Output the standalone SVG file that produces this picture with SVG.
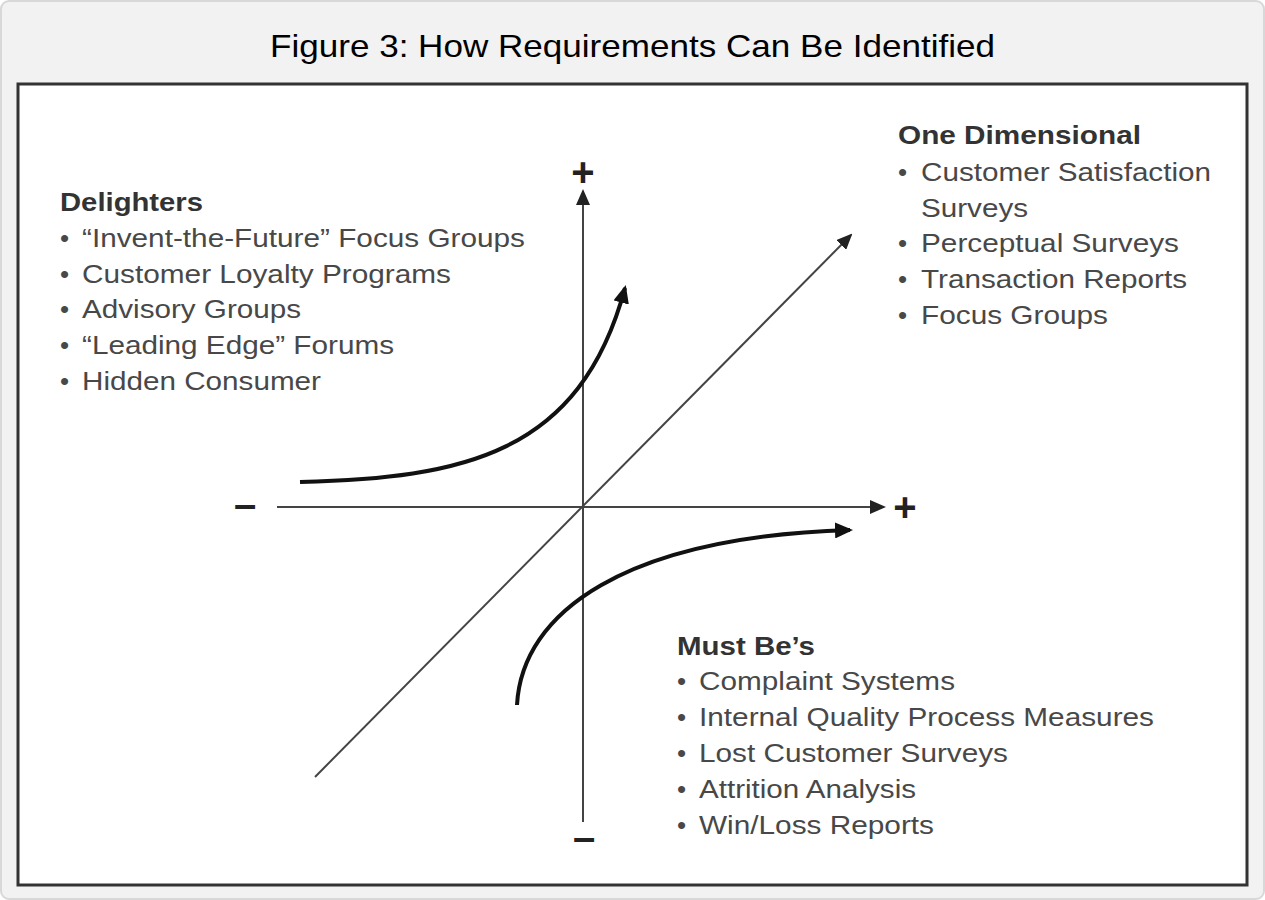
<svg xmlns="http://www.w3.org/2000/svg" width="1265" height="900" viewBox="0 0 1265 900">
<defs>
<style>
.ttl{font-family:"Liberation Sans",Arial,sans-serif;font-size:32px;fill:#000}
.hd{font-family:"Liberation Sans",Arial,sans-serif;font-size:26px;font-weight:bold;fill:#333}
.it{font-family:"Liberation Sans",Arial,sans-serif;font-size:26px;fill:#484848}
.sym{font-family:"Liberation Sans",Arial,sans-serif;font-size:40px;font-weight:bold;fill:#222;text-anchor:middle}
.axis{stroke:#444;stroke-width:2;fill:none}
.curve{stroke:#111;stroke-width:4;fill:none}
</style>
<marker id="ah" markerUnits="userSpaceOnUse" markerWidth="16" markerHeight="14" refX="14" refY="7" orient="auto">
<path d="M0,0 L16,7 L0,14 Z" fill="#222"/>
</marker>
<marker id="ahc" markerUnits="userSpaceOnUse" markerWidth="18" markerHeight="16" refX="15" refY="8" orient="auto">
<path d="M0,0 L18,8 L0,16 Z" fill="#111"/>
</marker>
</defs>
<rect x="1" y="1" width="1263" height="898" rx="8" fill="#f2f2f2" stroke="#d8d8d8" stroke-width="2"/>
<text class="ttl" x="270" y="57" textLength="725" lengthAdjust="spacingAndGlyphs">Figure 3: How Requirements Can Be Identified</text>
<rect x="18" y="84" width="1229" height="801" fill="#fff" stroke="#333" stroke-width="3"/>
<g id="connectors">
<line class="axis" x1="583" y1="822" x2="583" y2="191" marker-end="url(#ah)"/>
<line class="axis" x1="277" y1="507" x2="884" y2="507" marker-end="url(#ah)"/>
<line class="axis" x1="315" y1="777" x2="851" y2="235" marker-end="url(#ah)"/>
<path class="curve" d="M300,482 C462,478 580,455 625,288" marker-end="url(#ahc)"/>
<path class="curve" d="M517,705 C522,612 625,537 850,530" marker-end="url(#ahc)"/>
</g>
<g id="axis-labels">
<text class="sym" x="583" y="186">+</text>
<text class="sym" x="905" y="521">+</text>
<text class="sym" x="245" y="518">–</text>
<text class="sym" x="584" y="851">–</text>
</g>
<g id="delighters">
<text class="hd" x="60" y="211" textLength="143" lengthAdjust="spacingAndGlyphs">Delighters</text>
<text class="it" x="60" y="247">•</text><text class="it" x="82" y="247" textLength="443" lengthAdjust="spacingAndGlyphs">“Invent-the-Future” Focus Groups</text>
<text class="it" x="60" y="283">•</text><text class="it" x="82" y="283" textLength="369" lengthAdjust="spacingAndGlyphs">Customer Loyalty Programs</text>
<text class="it" x="60" y="318">•</text><text class="it" x="82" y="318" textLength="219" lengthAdjust="spacingAndGlyphs">Advisory Groups</text>
<text class="it" x="60" y="354">•</text><text class="it" x="82" y="354" textLength="312" lengthAdjust="spacingAndGlyphs">“Leading Edge” Forums</text>
<text class="it" x="60" y="390">•</text><text class="it" x="82" y="390" textLength="239" lengthAdjust="spacingAndGlyphs">Hidden Consumer</text>
</g>
<g id="one-dimensional">
<text class="hd" x="898" y="144" textLength="243" lengthAdjust="spacingAndGlyphs">One Dimensional</text>
<text class="it" x="898" y="181">•</text><text class="it" x="921" y="181" textLength="290" lengthAdjust="spacingAndGlyphs">Customer Satisfaction</text>
<text class="it" x="921" y="217" textLength="107" lengthAdjust="spacingAndGlyphs">Surveys</text>
<text class="it" x="898" y="252">•</text><text class="it" x="921" y="252" textLength="258" lengthAdjust="spacingAndGlyphs">Perceptual Surveys</text>
<text class="it" x="898" y="288">•</text><text class="it" x="921" y="288" textLength="266" lengthAdjust="spacingAndGlyphs">Transaction Reports</text>
<text class="it" x="898" y="324">•</text><text class="it" x="921" y="324" textLength="187" lengthAdjust="spacingAndGlyphs">Focus Groups</text>
</g>
<g id="must-bes">
<text class="hd" x="677" y="655" textLength="138" lengthAdjust="spacingAndGlyphs">Must Be’s</text>
<text class="it" x="677" y="690">•</text><text class="it" x="699" y="690" textLength="256" lengthAdjust="spacingAndGlyphs">Complaint Systems</text>
<text class="it" x="677" y="726">•</text><text class="it" x="699" y="726" textLength="455" lengthAdjust="spacingAndGlyphs">Internal Quality Process Measures</text>
<text class="it" x="677" y="762">•</text><text class="it" x="699" y="762" textLength="309" lengthAdjust="spacingAndGlyphs">Lost Customer Surveys</text>
<text class="it" x="677" y="798">•</text><text class="it" x="699" y="798" textLength="217" lengthAdjust="spacingAndGlyphs">Attrition Analysis</text>
<text class="it" x="677" y="834">•</text><text class="it" x="699" y="834" textLength="235" lengthAdjust="spacingAndGlyphs">Win/Loss Reports</text>
</g>
</svg>
